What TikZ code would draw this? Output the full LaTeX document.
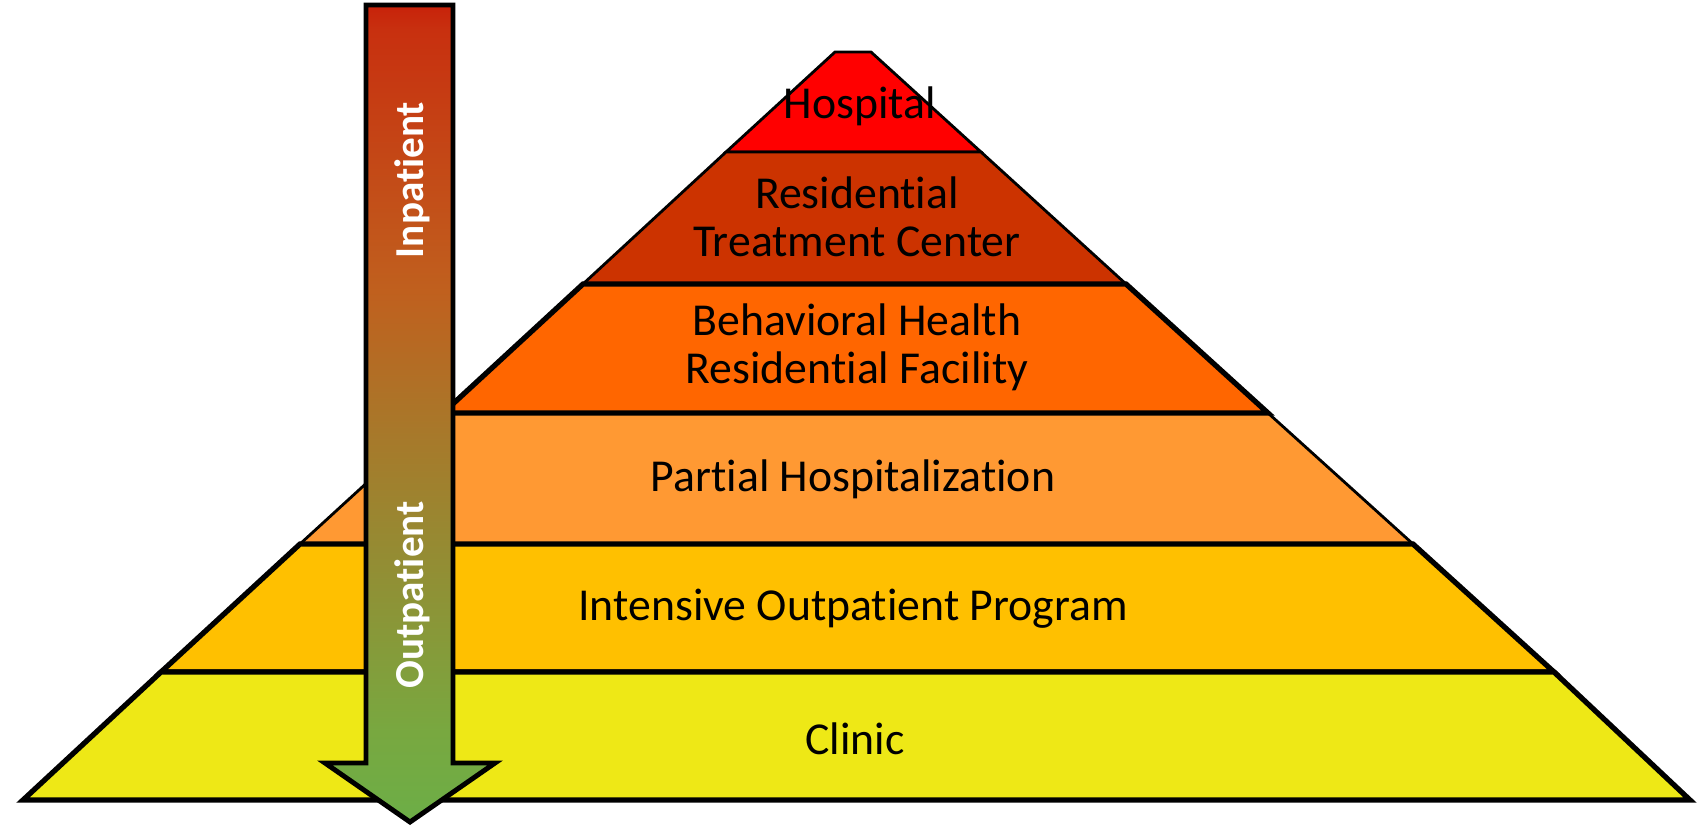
\documentclass[tikz,border=0pt]{standalone}
\usepackage{fontspec}
\setmainfont{Carlito}[Ligatures={NoCommon,NoRare}, Contextuals=NoAlternate]
\usetikzlibrary{calc}
\usepackage{xcolor}

\definecolor{hospred}{RGB}{255,0,0}
\definecolor{rtcred}{RGB}{204,51,0}
\definecolor{bhorange}{RGB}{255,102,0}
\definecolor{phorange}{RGB}{255,153,51}
\definecolor{iopyellow}{RGB}{255,192,0}
\definecolor{clinicyellow}{RGB}{238,232,22}

\pgfdeclareverticalshading{arrowfade}{100bp}{%
  rgb(0bp)=(0.424,0.682,0.278); rgb(25bp)=(0.424,0.682,0.278);
  rgb(30.5bp)=(0.471,0.659,0.251);
  rgb(49bp)=(0.659,0.471,0.165);
  rgb(57.5bp)=(0.753,0.376,0.118);
  rgb(73.5bp)=(0.784,0.188,0.059);
  rgb(75bp)=(0.784,0.133,0.039); rgb(100bp)=(0.784,0.133,0.039)}

\tikzset{
  thinband/.style={draw=black, line width=0.8pt},
  thickband/.style={draw=black, line width=1.5pt},
  level/.style={align=center, font=\fontsize{13}{13.6}\selectfont, inner sep=0pt},
  care/.style={rotate=90, text=white, font=\fontsize{11.7}{12}\selectfont\bfseries, inner sep=0pt}
}

\begin{document}
\begin{tikzpicture}[x=0.01cm, y=-0.01cm]
        \useasboundingbox (0,0) rectangle (1700,826);

        \coordinate (l0) at (835,52);
        \coordinate (r0) at (871,52);
        \coordinate (l1) at (726,152);
        \coordinate (r1) at (981,152);
        \coordinate (l2) at (583,284);
        \coordinate (r2) at (1126,284);
        \coordinate (l3) at (443,413);
        \coordinate (r3) at (1268,413);
        \coordinate (l4) at (300,544);
        \coordinate (r4) at (1413,544);
        \coordinate (l5) at (161,672);
        \coordinate (r5) at (1554,672);
        \coordinate (l6) at (23,800);
        \coordinate (r6) at (1690,800);

        \filldraw[thinband, fill=hospred] (l0) -- (r0) -- (r1) -- (l1) -- cycle;
        \filldraw[thinband, fill=rtcred] (l1) -- (r1) -- (r2) -- (l2) -- cycle;
        \filldraw[thinband, fill=phorange] (l3) -- (r3) -- (r4) -- (l4) -- cycle;
        \filldraw[thickband, fill=bhorange] (l2) -- (r2) -- (r3) -- (l3) -- cycle;
        \filldraw[thickband, fill=iopyellow] (l4) -- (r4) -- (r5) -- (l5) -- cycle;
        \filldraw[thickband, fill=clinicyellow] (l5) -- (r5) -- (r6) -- (l6) -- cycle;

        % the arrow from inpatient down to outpatient
        \coordinate (s1) at (366,5);
        \coordinate (s2) at (453,5);
        \coordinate (s3) at (453,763);
        \coordinate (h1) at (495,763);
        \coordinate (tip) at (410,822);
        \coordinate (h2) at (325,763);
        \coordinate (s4) at (366,763);
        \draw[line width=1.4pt, shading=arrowfade]
            (s1) -- (s2) -- (s3) -- (h1) -- (tip) -- (h2) -- (s4) -- cycle;

        \node[level] (hosp) at (860,106) {Hospital};
        \node[level] (rtc) at (857,217) {Residential\\Treatment Center};
        \node[level] (bh) at (857,347) {Behavioral Health\\Residential Facility};
        \node[level] (ph) at (853,479) {Partial Hospitalization};
        \node[level] (iop) at (853,609) {Intensive Outpatient Program};
        \node[level] (clinic) at (855,739) {Clinic};

        \node[care] (inpat) at (412,180) {Inpatient};
        \node[care] (outpat) at (412,595) {Outpatient};
    \end{tikzpicture}
\end{document}
